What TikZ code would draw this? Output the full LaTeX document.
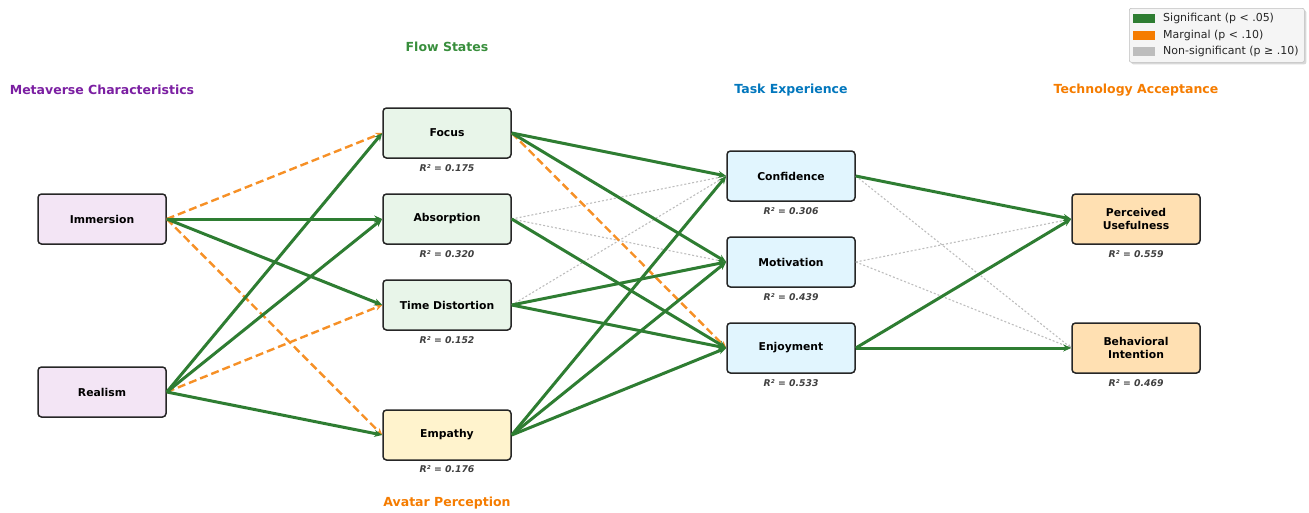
\documentclass[tikz,border=0pt]{standalone}
\usepackage{fontspec}
\setmainfont{DejaVu Sans}
\usetikzlibrary{arrows.meta,shadows}
\definecolor{sig}{HTML}{2E7D32}
\definecolor{marg}{HTML}{F57C00}
\definecolor{nons}{HTML}{BDBDBD}
\definecolor{purpfill}{HTML}{F3E5F5}
\definecolor{greenfill}{HTML}{E8F5E9}
\definecolor{yelfill}{HTML}{FFF3CD}
\definecolor{bluefill}{HTML}{E1F5FE}
\definecolor{orfill}{HTML}{FFE0B2}
\definecolor{tpurp}{HTML}{7B1FA2}
\definecolor{tgreen}{HTML}{388E3C}
\definecolor{tblue}{HTML}{0277BD}
\definecolor{torange}{HTML}{F57C00}
\tikzset{
  box/.style={draw=black!85, line width=1.5pt, rounded corners=3.5pt, minimum width=128pt, minimum height=50pt, font=\fontsize{10.8}{12.5}\selectfont\bfseries, align=center, inner sep=2pt},
  rsq/.style={font=\fontsize{9.3}{11}\selectfont\bfseries\itshape, text=black!75},
  ttl/.style={font=\fontsize{12.5}{14}\selectfont\bfseries},
  sigE/.style={draw=sig, line width=3pt, -{Stealth[length=8pt,width=7pt]}},
  margE/.style={draw=marg!85, line width=2.4pt, dash pattern=on 8pt off 4pt, -{Stealth[length=7pt,width=6pt]}},
  nonE/.style={draw=nons, line width=1.1pt, dash pattern=on 2pt off 2pt, -{Stealth[length=4pt,width=4pt]}},
  legtext/.style={font=\fontsize{11}{13}\selectfont, anchor=west, inner sep=0pt, text=black!85},
}
\begin{document}
\begin{tikzpicture}[x=1pt,y=-1pt]
\useasboundingbox (0,0) rectangle (1309,512);
% titles
\node[ttl, text=tpurp] (t1) at (102,90) {Metaverse Characteristics};
\node[ttl, text=tgreen] (t2) at (447,47) {Flow States};
\node[ttl, text=torange] (t3) at (447,503) {Avatar Perception};
\node[ttl, text=tblue] (t4) at (791,90) {Task Experience};
\node[ttl, text=torange] (t5) at (1136,90) {Technology Acceptance};
% nodes
\node[box, fill=purpfill] (imm) at (102,219) {Immersion};
\node[box, fill=purpfill] (rea) at (102,392) {Realism};
\node[box, fill=greenfill] (foc) at (447,133) {Focus};
\node[box, fill=greenfill] (abs) at (447,219) {Absorption};
\node[box, fill=greenfill] (tim) at (447,305) {Time Distortion};
\node[box, fill=yelfill] (emp) at (447,435) {Empathy};
\node[box, fill=bluefill] (con) at (791,176) {Confidence};
\node[box, fill=bluefill] (mot) at (791,262) {Motivation};
\node[box, fill=bluefill] (enj) at (791,348) {Enjoyment};
\node[box, fill=orfill] (pu) at (1136,219) {Perceived\\Usefulness};
\node[box, fill=orfill] (bi) at (1136,348) {Behavioral\\Intention};
% R2 labels
\node[rsq] (rfoc) at (447,168) {R² = 0.175};
\node[rsq] (rabs) at (447,254) {R² = 0.320};
\node[rsq] (rtim) at (447,340) {R² = 0.152};
\node[rsq] (remp) at (447,469) {R² = 0.176};
\node[rsq] (rcon) at (791,211) {R² = 0.306};
\node[rsq] (rmot) at (791,297) {R² = 0.439};
\node[rsq] (renj) at (791,383) {R² = 0.533};
\node[rsq] (rpu) at (1136,254) {R² = 0.559};
\node[rsq] (rbi) at (1136,383) {R² = 0.469};
% edges: non-significant first
\draw[nonE] (abs.east) -- (con.west);
\draw[nonE] (abs.east) -- (mot.west);
\draw[nonE] (tim.east) -- (con.west);
\draw[nonE] (con.east) -- (bi.west);
\draw[nonE] (mot.east) -- (pu.west);
\draw[nonE] (mot.east) -- (bi.west);
% marginal
\draw[margE] (imm.east) -- (foc.west);
\draw[margE] (imm.east) -- (emp.west);
\draw[margE] (rea.east) -- (tim.west);
\draw[margE] (foc.east) -- (enj.west);
% significant
\draw[sigE] (imm.east) -- (abs.west);
\draw[sigE] (imm.east) -- (tim.west);
\draw[sigE] (rea.east) -- (foc.west);
\draw[sigE] (rea.east) -- (abs.west);
\draw[sigE] (rea.east) -- (emp.west);
\draw[sigE] (foc.east) -- (con.west);
\draw[sigE] (foc.east) -- (mot.west);
\draw[sigE] (abs.east) -- (enj.west);
\draw[sigE] (tim.east) -- (mot.west);
\draw[sigE] (tim.east) -- (enj.west);
\draw[sigE] (emp.east) -- (con.west);
\draw[sigE] (emp.east) -- (mot.west);
\draw[sigE] (emp.east) -- (enj.west);
\draw[sigE] (con.east) -- (pu.west);
\draw[sigE] (enj.east) -- (pu.west);
\draw[sigE] (enj.east) -- (bi.west);
% legend
\node[draw=black!25, fill=black!4, rounded corners=2pt, line width=0.6pt, minimum width=175pt, minimum height=54pt, anchor=north west, drop shadow={shadow xshift=2pt, shadow yshift=-2pt, fill=black!30}] (leg) at (1129,8) {};
\fill[sig] (1133,14) rectangle (1155,23);
\fill[marg] (1133,31) rectangle (1155,40);
\fill[nons] (1133,47) rectangle (1155,56);
\node[legtext] (l1) at (1163,18.5) {Significant (p < .05)};
\node[legtext] (l2) at (1163,35.5) {Marginal (p < .10)};
\node[legtext] (l3) at (1163,51.5) {Non-significant (p ≥ .10)};
\end{tikzpicture}
\end{document}
